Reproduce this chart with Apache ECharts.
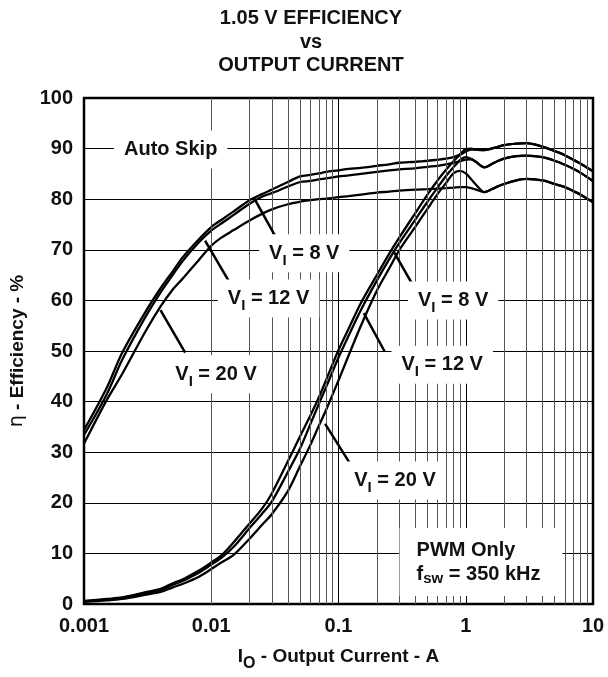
<!DOCTYPE html>
<html>
<head>
<meta charset="utf-8">
<script src="https://cdn.jsdelivr.net/npm/echarts@6/dist/echarts.min.js"></script>
<style>html,body{margin:0;padding:0;background:#fff}</style>
</head>
<body>
<div id="main" style="width:608px;height:677px"></div>
<script>
// output current, A
var currents = [0.001, 0.0015, 0.002, 0.003, 0.004, 0.005, 0.006, 0.008, 0.01, 0.012,
    0.015, 0.02, 0.025, 0.03, 0.04, 0.05, 0.06, 0.07, 0.08, 0.1,
    0.12, 0.15, 0.2, 0.25, 0.3, 0.4, 0.5, 0.6, 0.7, 0.8,
    0.9, 1, 1.1, 1.2, 1.4, 1.7, 2, 2.5, 3, 4,
    5, 6, 7, 8, 10];

// efficiency, %  (auto skip mode)
var autoSkip8V = [34.4, 42.6, 49.7, 57.5, 62.4, 65.8, 68.6, 72.1, 74.5, 75.9,
    77.6, 79.8, 81.0, 81.9, 83.4, 84.5, 84.8, 85.1, 85.4, 85.7,
    86.0, 86.2, 86.6, 86.9, 87.2, 87.4, 87.6, 87.8, 88.0, 88.3,
    88.8, 89.4, 89.8, 89.8, 89.7, 90.2, 90.7, 91.0, 91.1, 90.4,
    89.5, 88.7, 87.8, 87.0, 85.5];
var autoSkip12V = [33.4, 41.3, 48.3, 56.5, 61.6, 65.1, 67.9, 71.5, 73.8, 75.2,
    76.9, 79.1, 80.5, 81.2, 82.5, 83.4, 83.6, 83.9, 84.1, 84.5,
    84.7, 85.0, 85.4, 85.7, 85.9, 86.1, 86.4, 86.6, 86.9, 87.2,
    87.5, 87.8, 87.9, 87.4, 86.3, 87.3, 88.0, 88.5, 88.6, 88.3,
    87.6, 86.8, 86.0, 85.2, 83.6];
var autoSkip20V = [31.7, 40.2, 45.5, 53.6, 58.8, 62.2, 64.4, 68.0, 70.8, 72.4,
    73.9, 75.8, 77.1, 78.0, 79.0, 79.5, 79.8, 80.0, 80.1, 80.4,
    80.6, 80.9, 81.3, 81.5, 81.7, 81.9, 82.0, 82.1, 82.2, 82.3,
    82.4, 82.4, 82.2, 81.9, 81.4, 82.3, 83.0, 83.7, 84.0, 83.7,
    83.0, 82.4, 81.6, 80.9, 79.4];

// efficiency, %  (PWM only)
var pwm8V = [0.6, 1.0, 1.3, 2.3, 3.0, 4.1, 4.9, 6.6, 8.2, 9.6,
    12.2, 15.9, 18.8, 21.9, 28.2, 33.2, 37.2, 40.8, 44.3, 50.2,
    54.4, 59.5, 65.0, 69.2, 72.4, 77.2, 80.9, 83.7, 85.8, 87.5,
    88.8, 89.9, 90.0, 89.8, 89.7, 90.2, 90.7, 91.0, 91.1, 90.4,
    89.5, 88.7, 87.8, 87.0, 85.5];
var pwm12V = [0.5, 0.8, 1.2, 2.1, 2.8, 3.8, 4.6, 6.2, 7.8, 9.1,
    11.3, 15.0, 17.8, 20.3, 26.1, 30.8, 35.5, 39.5, 42.9, 48.7,
    53.0, 58.1, 63.9, 68.1, 71.3, 75.9, 79.5, 82.3, 84.6, 86.3,
    87.7, 88.3, 88.0, 87.4, 86.3, 87.3, 88.0, 88.5, 88.6, 88.3,
    87.6, 86.8, 86.0, 85.2, 83.6];
var pwm20V = [0.4, 0.7, 1.0, 1.8, 2.4, 3.3, 4.0, 5.4, 6.9, 8.2,
    9.7, 12.9, 15.6, 17.8, 22.3, 27.3, 31.4, 35.2, 38.4, 44.2,
    49.1, 55.0, 61.9, 66.3, 69.9, 74.5, 78.1, 81.0, 83.2, 85.1,
    85.6, 85.1, 84.0, 82.9, 81.4, 82.3, 83.0, 83.7, 84.0, 83.7,
    83.0, 82.4, 81.6, 80.9, 79.4];

var xTickLabels = ['0.001', '0.01', '0.1', '1', '10'];
var yTicks = [0, 10, 20, 30, 40, 50, 60, 70, 80, 90, 100];

// annotation text: [current, efficiency, text]
var notes = [
    [0.0048, 89.8, 'Auto Skip'],
    [0.0538, 69.3, 'V{s|I} = 8 V'],
    [0.0282, 60.4, 'V{s|I} = 12 V'],
    [0.0109, 45.4, 'V{s|I} = 20 V'],
    [0.796, 60.0, 'V{s|I} = 8 V'],
    [0.653, 47.3, 'V{s|I} = 12 V'],
    [0.278, 24.4, 'V{s|I} = 20 V']
];
var pwmNote = [0.302, 8.3, 'PWM Only\nf{s|sw} = 350 kHz'];

// arrows: [from, to]
var arrows = [
    [[0.032, 72.6], [0.0215, 80.4]],
    [[0.01375, 63.8], [0.00894, 71.8]],
    [[0.00624, 49.7], [0.00399, 58.1]],
    [[0.388, 62.8], [0.271, 69.7]],
    [[0.2305, 49.9], [0.158, 57.5]],
    [[0.123, 27.8], [0.0785, 35.6]]
];

var FONT = "'Liberation Sans', Arial, sans-serif";
var INK = '#111';

var minorGrid = [];
[0.001, 0.01, 0.1, 1].forEach(function (d) {
    for (var k = 2; k <= 9; k++) minorGrid.push({ xAxis: +(d * k).toPrecision(3) });
});

function pairs(ys) {
    return currents.map(function (c, i) { return [c, ys[i]]; });
}

var richText = {
    s: { fontFamily: FONT, fontWeight: 'bold', fontSize: 15, color: INK, lineHeight: 14, verticalAlign: 'bottom' }
};

function curve(name, ys) {
    return {
        name: name,
        type: 'line',
        data: pairs(ys),
        showSymbol: false,
        smooth: 0.3,
        z: 3,
        lineStyle: { color: '#000', width: 2.3 },
        silent: true
    };
}

var chartDom = document.getElementById('main');
var myChart = echarts.init(chartDom);
var option;

var noteData = notes.map(function (n) {
    return { value: [n[0], n[1]], name: n[2] };
});
noteData.push({
    value: [pwmNote[0], pwmNote[1]],
    name: pwmNote[2],
    label: { align: 'left', lineHeight: 24, padding: [10, 22, 10, 17] }
});

option = {
    animation: false,
    backgroundColor: '#fff',
    graphic: [{
        type: 'text',
        x: 311,
        y: 7,
        style: {
            text: '1.05 V EFFICIENCY\nvs\nOUTPUT CURRENT',
            font: 'bold 20px ' + FONT,
            fill: INK,
            textAlign: 'center',
            lineHeight: 23.5
        }
    }],
    grid: {
        left: 80, right: 15, top: 98, bottom: 68,
        show: true, borderColor: '#000', borderWidth: 2.5, backgroundColor: '#fff'
    },
    xAxis: {
        type: 'log',
        logBase: 10,
        min: 0.001,
        max: 10,
        name: 'I{s|O} - Output Current - A',
        nameLocation: 'middle',
        nameGap: 38,
        nameTextStyle: {
            fontFamily: FONT, fontWeight: 'bold', fontSize: 19, color: INK, lineHeight: 30,
            rich: { s: { fontFamily: FONT, fontWeight: 'bold', fontSize: 16, color: INK, lineHeight: 15, verticalAlign: 'bottom' } }
        },
        axisLine: { show: false },
        axisTick: { show: false },
        splitLine: { show: true, lineStyle: { color: '#000', width: 1 } },
        axisLabel: {
            fontFamily: FONT, fontWeight: 'bold', fontSize: 20, color: INK, margin: 12,
            formatter: function (v) { return xTickLabels[Math.round(Math.log10(v)) + 3]; }
        }
    },
    yAxis: {
        type: 'value',
        min: yTicks[0],
        max: yTicks[yTicks.length - 1],
        interval: 10,
        name: '{e|η} - Efficiency - %',
        nameLocation: 'middle',
        nameGap: 57,
        nameTextStyle: {
            fontFamily: FONT, fontWeight: 'bold', fontSize: 19, color: INK,
            rich: { e: { fontFamily: "'DejaVu Sans'", fontWeight: 'normal', fontSize: 19, color: INK } }
        },
        axisLine: { show: false },
        axisTick: { show: false },
        splitLine: { show: true, lineStyle: { color: '#000', width: 1 } },
        axisLabel: { fontFamily: FONT, fontWeight: 'bold', fontSize: 20, color: INK, margin: 11 }
    },
    series: [
        {
            name: 'minor grid',
            type: 'line',
            data: [],
            z: 1,
            silent: true,
            markLine: {
                silent: true,
                symbol: 'none',
                animation: false,
                label: { show: false },
                lineStyle: { color: '#555', width: 1, type: 'solid' },
                data: minorGrid
            }
        },
        curve('Auto Skip 8 V', autoSkip8V),
        curve('Auto Skip 12 V', autoSkip12V),
        curve('Auto Skip 20 V', autoSkip20V),
        curve('PWM 8 V', pwm8V),
        curve('PWM 12 V', pwm12V),
        curve('PWM 20 V', pwm20V),
        {
            name: 'arrows',
            type: 'line',
            data: [],
            z: 6,
            silent: true,
            markLine: {
                silent: true,
                animation: false,
                symbol: ['none', 'arrow'],
                symbolSize: [0, 17],
                label: { show: false },
                lineStyle: { color: '#000', width: 2.5, type: 'solid', opacity: 1 },
                data: arrows.map(function (a) {
                    return [{ coord: a[0] }, { coord: a[1] }];
                })
            }
        },
        {
            name: 'notes',
            type: 'scatter',
            symbolSize: 0,
            z: 8,
            silent: true,
            itemStyle: { opacity: 1 },
            data: noteData,
            label: {
                show: true,
                position: 'inside',
                formatter: '{b}',
                fontFamily: FONT,
                fontWeight: 'bold',
                fontSize: 20,
                color: INK,
                opacity: 1,
                textBorderWidth: 0,
                lineHeight: 30,
                backgroundColor: '#fff',
                padding: [4, 10, 4, 10],
                rich: richText
            }
        }
    ]
};

option && myChart.setOption(option);
</script>
</body>
</html>
